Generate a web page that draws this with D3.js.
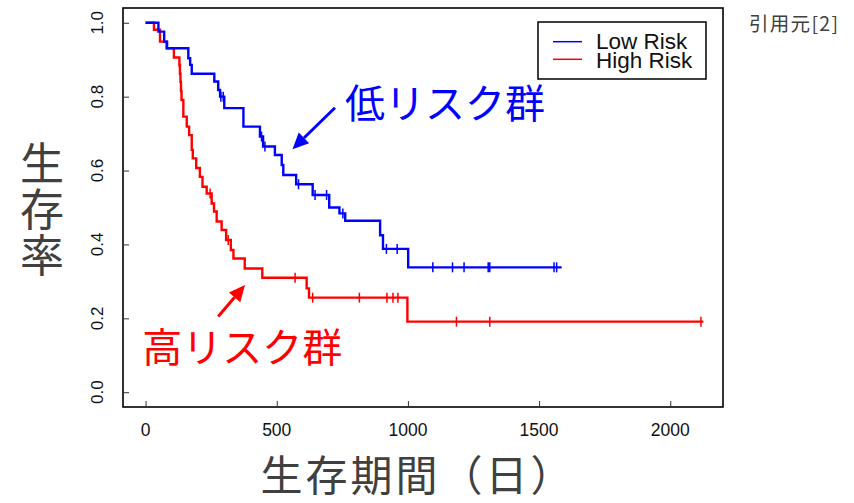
<!DOCTYPE html>
<html>
<head>
<meta charset="utf-8">
<script src="https://cdn.jsdelivr.net/npm/d3@7"></script>
<style>
  html, body { margin: 0; padding: 0; background: #fff; }
  svg { display: block; }
</style>
</head>
<body>
<div id="chart"></div>
<script>
// ---- Data ----
const lowTimes = [0, 49, 71, 82, 163, 170, 176, 262, 277, 284, 300, 373, 436, 448, 493, 519, 525, 574, 637, 700, 739, 761, 894, 905, 1001];
const lowSurv  = [1, .976, .949, .931, .904, .886, .862, .841, .818, .800, .769, .719, .692, .665, .642, .615, .588, .563, .534, .500, .484, .464, .425, .388, .338];
const lowCensor = [287, 296, 442, 455, 583, 646, 690, 752, 918, 959, 1095, 1170, 1214, 1306, 1312, 1557, 1567];
const lowEnd = 1586;

const highTimes = [0, 32, 55, 80, 108, 129, 131, 133, 135, 137, 144, 157, 166, 176, 180, 193, 207, 217, 233, 252, 261, 271, 290, 307, 325, 335, 378, 445, 614, 623, 998];
const highSurv  = [1, .981, .949, .931, .906, .885, .862, .840, .815, .791, .746, .719, .696, .656, .633, .607, .583, .556, .538, .511, .489, .462, .439, .412, .385, .362, .335, .310, .281, .256, .191];
const highCensor = [246, 315, 570, 637, 815, 920, 943, 962, 1185, 1312, 2117];
const highEnd = 2126;

const xTicks = [0, 500, 1000, 1500, 2000];
const yTicks = [0.0, 0.2, 0.4, 0.6, 0.8, 1.0];
const legendLabels = ["Low Risk", "High Risk"];
const seriesColors = ["#0000ff", "#ff0000"];
const xTitle = "生存期間（日）";
const yTitle = "生存率";
const sourceNote = "引用元[2]";
// annotation anchors in data units
const lowLabel = {text: "低リスク群", t: 760, s: 0.742};
const highLabel = {text: "高リスク群", t: -13, s: 0.081};
const lowArrow = {t0: 722, s0: 0.77, t1: 560, s1: 0.658};
const highArrow = {t0: 277, s0: 0.205, t1: 379, s1: 0.29};

// ---- Layout ----
const W = 854, H = 503;
const box = {left: 123, right: 723, top: 8, bottom: 407};
const svg = d3.select("#chart").append("svg").attr("width", W).attr("height", H);

const x = d3.scaleLinear().domain([-86, 2201]).range([box.left, box.right]);
const y = d3.scaleLinear().domain([-0.04, 1.04]).range([box.bottom, box.top]);

const tickFont = "'Liberation Sans', Arial, sans-serif";
const cjkFont = "'Noto Sans CJK JP', 'Noto Sans CJK SC', sans-serif";

// Plot box
svg.append("rect")
  .attr("x", box.left).attr("y", box.top)
  .attr("width", box.right - box.left).attr("height", box.bottom - box.top)
  .attr("fill", "none").attr("stroke", "#000").attr("stroke-width", 1.6);

// Axes (ticks inward, labels placed manually)
const xAxis = d3.axisBottom(x).tickValues(xTicks).tickSize(-6).tickFormat("");
svg.append("g").attr("transform", `translate(0,${box.bottom})`).call(xAxis)
  .call(g => g.select(".domain").remove())
  .call(g => g.selectAll(".tick line").attr("stroke", "#333").attr("stroke-width", 1));
const yAxis = d3.axisLeft(y).tickValues(yTicks).tickSize(-6).tickFormat("");
svg.append("g").attr("transform", `translate(${box.left},0)`).call(yAxis)
  .call(g => g.select(".domain").remove())
  .call(g => g.selectAll(".tick line").attr("stroke", "#333").attr("stroke-width", 1));

// Tick labels
svg.append("g").selectAll("text").data(xTicks).join("text")
  .attr("x", d => x(d)).attr("y", 436)
  .attr("text-anchor", "middle")
  .attr("font-family", tickFont).attr("font-size", 17.5).attr("fill", "#111")
  .text(d => d);
svg.append("g").selectAll("text").data(yTicks).join("text")
  .attr("transform", d => `translate(103,${y(d)}) rotate(-90)`)
  .attr("text-anchor", "middle")
  .attr("font-family", tickFont).attr("font-size", 17).attr("fill", "#111")
  .text(d => d.toFixed(1));

// Axis titles
svg.append("text").attr("x", 418).attr("y", 490.5).attr("text-anchor", "middle")
  .attr("font-family", cjkFont).attr("font-size", 42).attr("letter-spacing", 3)
  .attr("fill", "#404040")
  .text(xTitle);
svg.append("text").attr("x", 42).attr("y", 210)
  .attr("text-anchor", "middle")
  .style("writing-mode", "vertical-rl")
  .attr("letter-spacing", 2)
  .attr("font-family", cjkFont).attr("font-size", 44).attr("fill", "#404040")
  .text(yTitle);

// Source note
svg.append("text").attr("x", 749).attr("y", 31)
  .attr("font-family", cjkFont).attr("font-size", 19.5).attr("letter-spacing", 1.3)
  .attr("fill", "#404040")
  .text(sourceNote);

// KM curves
function kmPoints(times, surv, end) {
  const pts = times.map((t, i) => [t, surv[i]]);
  pts.push([end, surv[surv.length - 1]]);
  return pts;
}
function survAt(times, surv, t) {
  let s = surv[0];
  for (let i = 0; i < times.length; i++) if (times[i] <= t) s = surv[i];
  return s;
}
const line = d3.line().x(d => x(d[0])).y(d => y(d[1])).curve(d3.curveStepAfter);

const series = [
  {times: lowTimes, surv: lowSurv, censor: lowCensor, end: lowEnd, color: seriesColors[0]},
  {times: highTimes, surv: highSurv, censor: highCensor, end: highEnd, color: seriesColors[1]}
];
[series[1], series[0]].forEach(sr => {
  svg.append("path")
    .attr("d", line(kmPoints(sr.times, sr.surv, sr.end)))
    .attr("fill", "none").attr("stroke", sr.color).attr("stroke-width", 2.4)
    .attr("stroke-linejoin", "miter");
  svg.append("g").selectAll("line").data(sr.censor).join("line")
    .attr("x1", d => x(d)).attr("x2", d => x(d))
    .attr("y1", d => y(survAt(sr.times, sr.surv, d)) - 5)
    .attr("y2", d => y(survAt(sr.times, sr.surv, d)) + 5)
    .attr("stroke", sr.color).attr("stroke-width", 1.5);
});

// Legend
const lg = svg.append("g");
lg.append("rect").attr("x", 538).attr("y", 22).attr("width", 168).attr("height", 57)
  .attr("fill", "#fff").attr("stroke", "#000").attr("stroke-width", 1.5);
legendLabels.forEach((lab, i) => {
  const ly = 41.7 + i * 17.6;
  lg.append("line").attr("x1", 553).attr("x2", 582).attr("y1", ly).attr("y2", ly)
    .attr("stroke", seriesColors[i]).attr("stroke-width", 1.5);
  lg.append("text").attr("x", 596).attr("y", 49.3 + i * 19)
    .attr("font-family", tickFont).attr("font-size", 22.5).attr("fill", "#111")
    .text(lab);
});

// Annotations
function arrow(a, color) {
  const x0 = x(a.t0), y0 = y(a.s0), x1 = x(a.t1), y1 = y(a.s1);
  const ang = Math.atan2(y1 - y0, x1 - x0);
  const hl = 16, hw = 7.5;
  const bx = x1 - hl * Math.cos(ang), by = y1 - hl * Math.sin(ang);
  svg.append("line").attr("x1", x0).attr("y1", y0).attr("x2", bx).attr("y2", by)
    .attr("stroke", color).attr("stroke-width", 3);
  const px = -Math.sin(ang), py = Math.cos(ang);
  svg.append("path")
    .attr("d", `M${x1},${y1}L${bx + px * hw},${by + py * hw}L${bx - px * hw},${by - py * hw}Z`)
    .attr("fill", color);
}
arrow(lowArrow, seriesColors[0]);
arrow(highArrow, seriesColors[1]);

svg.append("text").attr("x", x(lowLabel.t)).attr("y", y(lowLabel.s))
  .attr("font-family", cjkFont).attr("font-size", 40).attr("fill", seriesColors[0])
  .text(lowLabel.text);
svg.append("text").attr("x", x(highLabel.t)).attr("y", y(highLabel.s))
  .attr("font-family", cjkFont).attr("font-size", 40).attr("fill", seriesColors[1])
  .text(highLabel.text);
</script>
</body>
</html>
